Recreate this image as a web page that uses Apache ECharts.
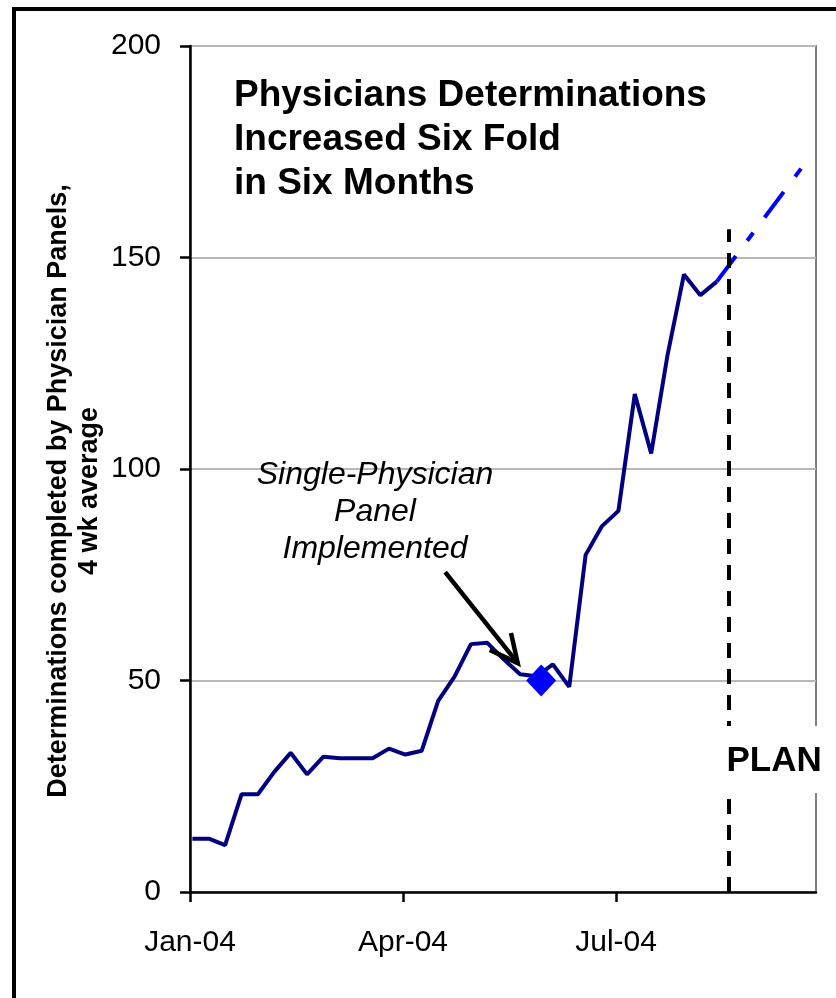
<!DOCTYPE html>
<html><head><meta charset="utf-8">
<script src="https://cdn.jsdelivr.net/npm/echarts@6/dist/echarts.min.js"></script>
<style>html,body{margin:0;padding:0;background:#fff;}#c{width:836px;height:998px;}</style>
</head><body><div id="c"></div>
<script>
// ---- data ----
const weekDates = ['2004-01-02','2004-01-09','2004-01-16','2004-01-23','2004-01-30',
  '2004-02-06','2004-02-13','2004-02-20','2004-02-27','2004-03-05','2004-03-12',
  '2004-03-19','2004-03-26','2004-04-02','2004-04-09','2004-04-16','2004-04-23',
  '2004-04-30','2004-05-07','2004-05-14','2004-05-21','2004-05-28','2004-06-04',
  '2004-06-11','2004-06-18','2004-06-25','2004-07-02','2004-07-09','2004-07-16',
  '2004-07-23','2004-07-30','2004-08-06','2004-08-13'];
const weekValues = [12.6,12.6,11.1,23.1,23.1,28.4,32.9,27.8,32.0,31.6,31.6,
  31.6,33.9,32.5,33.4,45.2,50.9,58.6,58.9,55.0,51.5,51.0,53.8,
  48.5,79.7,86.5,90.1,117.7,103.7,127.0,146.0,141.1,144.3];
const planDates = ['2004-08-13','2004-09-18'];
const planValues = [144.3, 171.0];
const markerDates = ['2004-05-30'];
const markerValues = [50];
const planStartDate = '2004-08-18';
const planLineTop = 156.7;
const xTickDates = ['2004-01-01','2004-04-01','2004-07-01'];
const xTickLabels = ['Jan-04','Apr-04','Jul-04'];
const axisStart = '2004-01-01';
const axisEnd = '2004-09-24';
const yMin = 0, yMax = 200, yStep = 50;
const titleText = 'Physicians Determinations\nIncreased Six Fold\nin Six Months';
const noteText = 'Single-Physician\nPanel\nImplemented';
const yAxisTitle = 'Determinations completed by Physician Panels,\n4 wk average';
const planLabel = 'PLAN';
// annotation arrow (data coords: [date, value])
const arrowTail = ['2004-04-19', 75.6];
const arrowTip = ['2004-05-20', 54.1];

// ---- helpers ----
const t0 = Date.parse(axisStart + 'T00:00:00Z');
const dayOf = d => (Date.parse(d + 'T00:00:00Z') - t0) / 864e5;
const xTickDays = xTickDates.map(dayOf);
const FONT = '"Liberation Sans", Arial, sans-serif';

const chart = echarts.init(document.getElementById('c'), null, {renderer: 'canvas'});
const option = {
  backgroundColor: '#fff',
  animation: false,
  grid: {left: 190, right: 20, top: 46, bottom: 106, show: true,
    borderColor: '#808080', borderWidth: 2, backgroundColor: 'transparent'},
  xAxis: {
    type: 'value', min: 0, max: dayOf(axisEnd) + 0.4, interval: 91,
    axisLine: {show: true, onZero: false, lineStyle: {color: '#000', width: 2.5}},
    axisTick: {show: true, length: 10, customValues: xTickDays, lineStyle: {color: '#000', width: 2.5}},
    axisLabel: {customValues: xTickDays, margin: 36, fontSize: 30, color: '#000', fontFamily: FONT,
      formatter: v => { const i = xTickDays.indexOf(Math.round(v)); return i >= 0 ? xTickLabels[i] : ''; }},
    splitLine: {show: false}
  },
  yAxis: {
    type: 'value', min: yMin, max: yMax, interval: yStep,
    axisLine: {show: true, lineStyle: {color: '#000', width: 2.5}},
    axisTick: {show: true, length: 10, lineStyle: {color: '#000', width: 2.5}},
    axisLabel: {margin: 29, fontSize: 30, color: '#000', fontFamily: FONT},
    splitLine: {show: true, lineStyle: {color: '#B8B8B8', width: 2}}
  },
  series: [
    {type: 'line', name: 'actual', data: weekDates.map((d, i) => [dayOf(d), weekValues[i]]),
      symbol: 'none', lineStyle: {color: '#000080', width: 4}, z: 3},
    {type: 'line', name: 'plan', data: planDates.map((d, i) => [dayOf(d), planValues[i]]),
      symbol: 'none', lineStyle: {color: '#0000FF', width: 4, type: [32, 19, 10, 19], cap: 'butt'}, z: 3,
      markLine: {silent: true, symbol: 'none', label: {show: false},
        lineStyle: {color: '#000', width: 4, type: [15, 11]},
        data: [[{coord: [dayOf(planStartDate), 0]}, {coord: [dayOf(planStartDate), planLineTop]}]]}},
    {type: 'scatter', name: 'marker', data: markerDates.map((d, i) => [dayOf(d), markerValues[i]]),
      symbol: 'diamond', symbolSize: [30, 32], itemStyle: {color: '#0000FF', opacity: 1}, z: 5}
  ]
};
chart.setOption(option);

const tail = chart.convertToPixel({gridIndex: 0}, [dayOf(arrowTail[0]), arrowTail[1]]);
const tip = chart.convertToPixel({gridIndex: 0}, [dayOf(arrowTip[0]), arrowTip[1]]);
const ang = Math.atan2(tail[1] - tip[1], tail[0] - tip[0]);
const hl = 31, ha = 26 * Math.PI / 180;
const h1 = [tip[0] + hl * Math.cos(ang + ha), tip[1] + hl * Math.sin(ang + ha)];
const h2 = [tip[0] + hl * Math.cos(ang - ha), tip[1] + hl * Math.sin(ang - ha)];
const planX = chart.convertToPixel({gridIndex: 0}, [dayOf(planStartDate), 0])[0];

chart.setOption({
  graphic: [
    {type: 'rect', shape: {x: 14, y: 9, width: 1000, height: 1100}, style: {fill: 'none', stroke: '#000', lineWidth: 4}, z: 10},
    {type: 'text', x: 234, y: 74, z: 10, style: {text: titleText, font: 'bold 37px ' + FONT, fill: '#000',
      textAlign: 'left', textVerticalAlign: 'top', lineHeight: 44}},
    {type: 'text', x: 375, y: 457, z: 10, style: {text: noteText, font: 'italic 32px ' + FONT, fill: '#000',
      textAlign: 'center', textVerticalAlign: 'top', lineHeight: 37}},
    {type: 'polyline', z: 10, shape: {points: [tail, tip]}, style: {stroke: '#000', lineWidth: 4.5}},
    {type: 'polyline', z: 10, shape: {points: [h1, tip, h2]}, style: {stroke: '#000', lineWidth: 4.5, fill: 'none', lineJoin: 'miter'}},
    {type: 'rect', z: 10, shape: {x: planX - 7, y: 726, width: 110, height: 67}, style: {fill: '#fff'}},
    {type: 'text', x: planX - 2, y: 761, z: 11, style: {text: planLabel, font: 'bold 35px ' + FONT, fill: '#000',
      textAlign: 'left', textVerticalAlign: 'middle'}},
    {type: 'text', x: 74, y: 491, rotation: Math.PI / 2, z: 10, style: {text: yAxisTitle, font: 'bold 27px ' + FONT,
      fill: '#000', textAlign: 'center', textVerticalAlign: 'middle', lineHeight: 31}}
  ]
});
</script></body></html>
